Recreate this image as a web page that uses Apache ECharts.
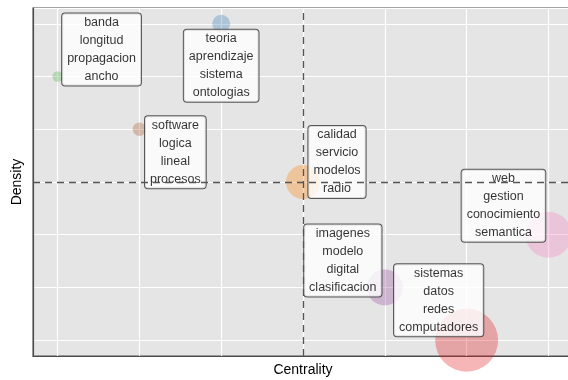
<!DOCTYPE html>
<html>
<head>
<meta charset="utf-8">
<script src="https://cdn.jsdelivr.net/npm/echarts@6/dist/echarts.min.js"></script>
<style>
    html, body { margin: 0; padding: 0; background: #fff; }
    #chart { width: 568px; height: 380px; }
</style>
</head>
<body>
<div id="chart"></div>
<script>
// 主题图数据（按集群）
const clusterWords = [
    ['sistemas', 'datos', 'redes', 'computadores'],
    ['teoria', 'aprendizaje', 'sistema', 'ontologias'],
    ['banda', 'longitud', 'propagacion', 'ancho'],
    ['imagenes', 'modelo', 'digital', 'clasificacion'],
    ['calidad', 'servicio', 'modelos', 'radio'],
    ['software', 'logica', 'lineal', 'procesos'],
    ['web', 'gestion', 'conocimiento', 'semantica']
];
const centralityRank = [6, 3, 1, 5, 4, 2, 7];
const densityRank = [1, 7, 6, 2, 4, 5, 3];
const clusterFreq = [110, 9, 3, 36, 32, 5, 59];

// 样式
const clusterColors = ['#E41A1C', '#377EB8', '#4DAF4A', '#984EA3', '#FF7F00', '#A65628', '#F781BF'];
// 标签偏移（像素，模拟 ggrepel）
const labelOffsets = [[-28, -40], [0, 42], [44, -27], [-42, -27], [34, -20], [36, 23], [-45, -29]];

function mean(arr) {
    return arr.reduce((a, b) => a + b, 0) / arr.length;
}

// 十六进制颜色加透明度
function withAlpha(hex, a) {
    const n = parseInt(hex.slice(1), 16);
    return `rgba(${(n >> 16) & 255}, ${(n >> 8) & 255}, ${n & 255}, ${a})`;
}

document.addEventListener('DOMContentLoaded', function () {
    const chart = echarts.init(document.getElementById('chart'), null, { renderer: 'canvas' });

    // 气泡
    const bubbles = clusterWords.map((words, i) => ({
        value: [centralityRank[i], densityRank[i], clusterFreq[i]],
        symbolSize: 6 * Math.sqrt(clusterFreq[i]),
        itemStyle: { color: withAlpha(clusterColors[i], 0.4) }
    }));

    // 标签（单独一层，盖在所有气泡上）
    const labels = clusterWords.map((words, i) => ({
        value: [centralityRank[i], densityRank[i]],
        label: {
            show: true,
            position: 'inside',
            offset: labelOffsets[i],
            formatter: words.join('\n')
        }
    }));

    const axisCommon = {
        type: 'value',
        min: 0.7,
        max: 7.3,
        minInterval: 1,
        maxInterval: 1,
        axisLabel: { show: false },
        axisTick: { show: false },
        axisLine: { show: true, lineStyle: { color: '#4d4d4d', width: 1.2 } },
        splitLine: { show: true, lineStyle: { color: '#ffffff', width: 1.2 } },
        nameLocation: 'middle',
        nameTextStyle: { color: '#000', fontSize: 14, fontFamily: 'Liberation Sans' }
    };

    const option = {
        animation: false,
        textStyle: { fontFamily: 'Liberation Sans' },
        grid: {
            left: 33,
            width: 540,
            top: 8,
            height: 348,
            outerBoundsMode: 'none',
            containLabel: false,
            show: true,
            backgroundColor: '#e5e5e5',
            borderColor: '#4d4d4d',
            borderWidth: 1.2
        },
        xAxis: Object.assign({}, axisCommon, { name: 'Centrality', nameGap: 7 }),
        yAxis: Object.assign({}, axisCommon, { name: 'Density', nameGap: 9 }),
        series: [
            {
                type: 'scatter',
                clip: true,
                z: 2,
                data: bubbles
            },
            {
                type: 'scatter',
                z: 5,
                symbolSize: 1,
                itemStyle: { color: 'rgba(0,0,0,0)' },
                data: labels,
                label: {
                    color: '#000',
                    fontSize: 12.5,
                    lineHeight: 18,
                    align: 'center',
                    backgroundColor: '#ffffff',
                    borderColor: '#333',
                    borderWidth: 1,
                    borderRadius: 3,
                    padding: [0, 5]
                }
            },
            {
                type: 'scatter',
                zlevel: 2,
                z: 100,
                data: [],
                markLine: {
                    silent: true,
                    symbol: 'none',
                    z: 100,
                    label: { show: false },
                    lineStyle: { color: '#555', width: 1.3, type: [7, 5] },
                    data: [
                        { xAxis: mean(centralityRank) },
                        { yAxis: mean(densityRank) }
                    ]
                }
            }
        ]
    };
    chart.setOption(option);
    window.addEventListener('resize', () => chart.resize());
});
</script>
</body>
</html>
